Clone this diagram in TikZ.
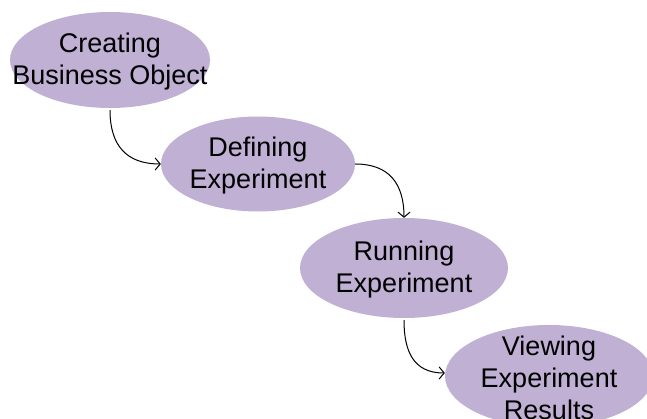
\documentclass[tikz,border=0pt]{standalone}
\usepackage{fontspec}
\setmainfont{Liberation Sans}
\usepackage{xcolor}
\usetikzlibrary{shapes.geometric,arrows.meta}

\definecolor{stagepurple}{RGB}{191,176,212}

\tikzset{
    stage/.style={ellipse, fill=stagepurple, inner sep=0pt},
    stagetext/.style={align=center, yshift=-2pt, font=\fontsize{27}{32}\selectfont},
    flow/.style={-{Straight Barb[length=5pt,width=12pt]}, line width=1pt}
}

\begin{document}
\begin{tikzpicture}[x=1pt,y=-1pt]
        % Page frame
        \useasboundingbox (0,0) rectangle (647,419);
        \clip (0,0) rectangle (647,419);
        % Stages (fixed size, text laid over the middle)
        \node[stage, minimum width=200, minimum height=96,
              label={[stagetext]center:Creating\\Business Object}] (create) at (110,60) {};
        \node[stage, minimum width=194, minimum height=95,
              label={[stagetext]center:Defining\\Experiment}] (define) at (258,164) {};
        \node[stage, minimum width=208, minimum height=100,
              label={[stagetext]center:Running\\Experiment}] (run) at (404,268) {};
        \node[stage, minimum width=208, minimum height=102,
              label={[stagetext]center:Viewing\\Experiment\\Results}] (view) at (549,376) {};
        % Links between stages
        \draw[flow] ([yshift=-2]create.south) to[out=-90, in=180, looseness=1.2] (define.west);
        \draw[flow] (define.east) to[out=0, in=90, looseness=1.2] (run.north);
        \draw[flow] ([yshift=-2]run.south) to[out=-90, in=180, looseness=1.2] ([yshift=3]view.west);
    \end{tikzpicture}
\end{document}
